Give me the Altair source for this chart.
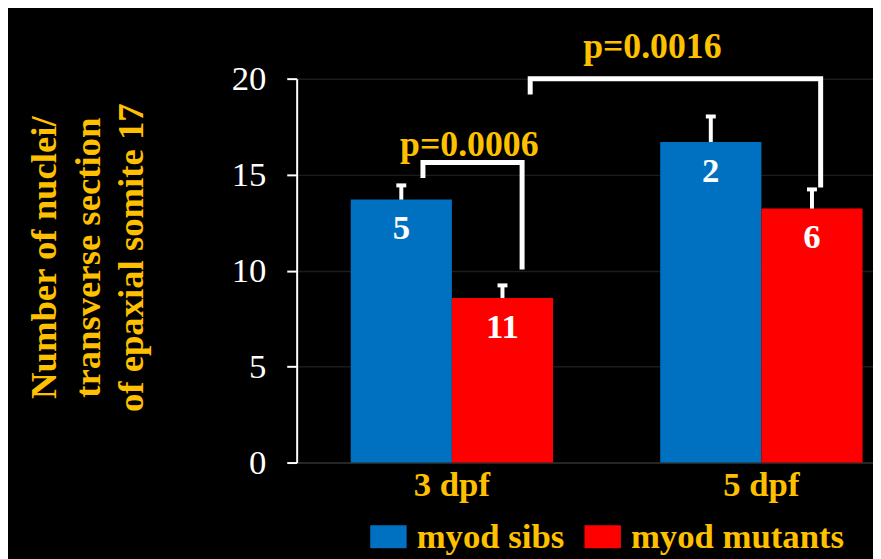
import altair as alt
import pandas as pd

# ---- data ----
groups = ["3 dpf", "3 dpf", "5 dpf", "5 dpf"]
series = ["myod sibs", "myod mutants", "myod sibs", "myod mutants"]
means = [13.70, 8.57, 16.70, 13.23]
err_tops = [14.44, 9.23, 18.03, 14.23]
n_labels = ["5", "11", "2", "6"]

group_domain = ["3 dpf", "5 dpf"]
series_domain = ["myod sibs", "myod mutants"]
series_colors = ["#0070C0", "#FF0000"]

# significance brackets (group, fraction across the group's band, value)
bracket_ids = ["b1", "b1", "b1", "b1", "b2", "b2", "b2", "b2"]
bracket_groups = ["3 dpf", "3 dpf", "3 dpf", "3 dpf", "3 dpf", "3 dpf", "5 dpf", "5 dpf"]
bracket_fracs = [0.357, 0.357, 0.847, 0.847, 0.887, 0.887, 0.793, 0.793]
bracket_vals = [14.82, 15.63, 15.63, 10.06, 19.17, 19.99, 19.99, 14.33]
bracket_seq = [0, 1, 2, 3, 0, 1, 2, 3]

p_texts = ["p=0.0006", "p=0.0016"]
p_groups = ["3 dpf", "5 dpf"]
p_fracs = [0.586, -0.039]
p_vals = [15.98, 21.1]

y_ticks = [0, 5, 10, 15, 20]
y_title = ["Number of nuclei/", "transverse section", "of epaxial somite 17"]

# ---- tables ----
df = pd.DataFrame({"group": groups, "series": series, "mean": means,
                   "err": err_tops, "n": n_labels})
br = pd.DataFrame({"bracket": bracket_ids, "group": bracket_groups,
                   "frac": bracket_fracs, "val": bracket_vals, "seq": bracket_seq})
pt = pd.DataFrame({"text": p_texts, "group": p_groups, "frac": p_fracs, "val": p_vals})

YELLOW = "#FFC000"
FONT = "Liberation Serif"

x_enc = alt.X("group:N",
              scale=alt.Scale(type="band", domain=group_domain, paddingInner=0.3462,
                              paddingOuter=0.1042, align=0.838),
              axis=alt.Axis(title=None, labelAngle=0, ticks=False, grid=False,
                            domainColor="#262626", domainWidth=2,
                            labelFont=FONT, labelFontSize=35, labelFontWeight="bold",
                            labelColor=YELLOW, labelPadding=5))
y_scale = alt.Scale(domain=[0, 20], nice=False, zero=True)
y_axis = alt.Axis(values=y_ticks, title=y_title, grid=True, gridColor="#1c1c1c",
                  gridWidth=1.5, labelFont=FONT, labelFontSize=35, labelColor="white",
                  labelPadding=21, tickColor="white", tickSize=10, tickWidth=2,
                  domainColor="white", domainWidth=2,
                  titleFont=FONT, titleFontSize=37, titleFontWeight="bold",
                  titleColor=YELLOW, titleLineHeight=44, titleAngle=270,
                  titleAlign="center", titleBaseline="alphabetic",
                  titleX=-243, titleY=180)
xoff_nom = alt.XOffset("series:N", scale=alt.Scale(type="band", domain=series_domain,
                                                   paddingInner=0, paddingOuter=0))
xoff_q = alt.XOffset("frac:Q", scale=alt.Scale(domain=[0, 1], nice=False, zero=False))

bars = alt.Chart(df).mark_bar(opacity=1).encode(
    x=x_enc,
    xOffset=xoff_nom,
    y=alt.Y("mean:Q", scale=y_scale, axis=y_axis),
    color=alt.Color("series:N",
                    scale=alt.Scale(domain=series_domain, range=series_colors),
                    legend=alt.Legend(title=None, orient="none", legendX=74, legendY=443,
                                      direction="horizontal",
                                      symbolType="M-1,-0.635H1V0.635H-1Z",
                                      symbolSize=1347, symbolStrokeWidth=0,
                                      symbolOpacity=1,
                                      labelFont=FONT, labelFontSize=35,
                                      labelFontWeight="bold", labelColor=YELLOW,
                                      labelLimit=400, labelOffset=10,
                                      columnPadding=20, padding=0)),
)

stems = alt.Chart(df).mark_rule(color="white", strokeWidth=4).encode(
    x=x_enc, xOffset=xoff_nom,
    y=alt.Y("mean:Q", scale=y_scale, axis=y_axis), y2="err:Q")

caps = alt.Chart(df).mark_tick(color="white", thickness=4, size=10, opacity=1).encode(
    x=x_enc, xOffset=xoff_nom,
    y=alt.Y("err:Q", scale=y_scale, axis=y_axis))

labels = alt.Chart(df).mark_text(color="white", font=FONT, fontSize=35,
                                 fontWeight="bold", baseline="middle", align="center",
                                 dy=29).encode(
    x=x_enc, xOffset=xoff_nom,
    y=alt.Y("mean:Q", scale=y_scale, axis=y_axis), text="n:N")

brackets = alt.Chart(br).mark_line(color="white", strokeWidth=5,
                                   strokeJoin="miter", strokeCap="butt").encode(
    x=x_enc, xOffset=xoff_q,
    y=alt.Y("val:Q", scale=y_scale, axis=y_axis),
    detail="bracket:N", order="seq:Q")

ptext = alt.Chart(pt).mark_text(color=YELLOW, font=FONT, fontSize=36, fontWeight="bold",
                                baseline="alphabetic", align="center").encode(
    x=x_enc, xOffset=xoff_q,
    y=alt.Y("val:Q", scale=y_scale, axis=y_axis), text="text:N")

chart = alt.layer(bars, stems, caps, labels, brackets, ptext).resolve_scale(
    xOffset="independent"
).properties(
    width=581, height=387,
    autosize=alt.AutoSizeParams(type="none"),
    padding={"left": 291, "top": 69, "right": 0, "bottom": 95},
    background="black",
).configure_view(stroke=None)

chart.save("out.html", embed_options={"renderer": "svg", "actions": False})
